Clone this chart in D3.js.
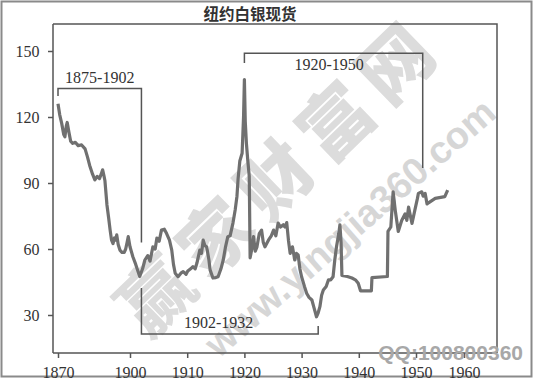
<!DOCTYPE html>
<html><head><meta charset="utf-8">
<script src="https://cdn.jsdelivr.net/npm/d3@7/dist/d3.min.js"></script>
<style>body{margin:0;background:#fff}</style>
</head><body><svg id="c" width="535" height="380"></svg>
<script>
const titleText = "纽约白银现货";
const years = [1875.0,1875.6,1876.3,1877.0,1877.4,1877.9,1878.2,1878.8,1879.4,1880.1,1881.0,1882.0,1883.2,1884.4,1885.2,1886.0,1887.0,1887.8,1888.6,1889.4,1890.0,1890.5,1891.0,1891.3,1892.0,1892.6,1893.1,1893.6,1894.1,1894.6,1895.0,1895.4,1895.9,1896.5,1897.2,1898.0,1898.5,1899.0,1899.4,1900.0,1900.5,1901.0,1901.7,1902.2,1902.6,1903.1,1903.5,1904.0,1904.4,1904.7,1905.1,1905.5,1906.0,1906.4,1906.9,1907.3,1907.6,1907.9,1908.4,1908.9,1909.3,1909.8,1910.1,1910.6,1911.0,1911.4,1911.7,1912.2,1912.5,1912.8,1913.1,1913.4,1913.8,1914.0,1914.5,1915.0,1915.4,1915.9,1916.3,1916.7,1917.1,1917.5,1918.0,1918.4,1918.7,1918.9,1919.2,1919.6,1919.85,1920.0,1920.15,1920.35,1920.6,1920.85,1921.0,1921.3,1921.6,1921.9,1922.2,1922.6,1923.0,1923.3,1923.6,1924.2,1924.7,1925.1,1925.5,1925.9,1926.3,1926.8,1927.1,1927.4,1927.7,1928.0,1928.4,1928.8,1929.1,1929.4,1929.7,1930.0,1930.5,1930.9,1931.3,1931.8,1932.2,1932.6,1932.9,1933.2,1933.5,1933.8,1934.3,1934.7,1935.1,1935.5,1935.8,1936.1,1936.5,1936.7,1936.9,1937.05,1938.0,1938.8,1939.4,1939.9,1940.3,1942.2,1942.3,1945.0,1945.1,1945.6,1946.0,1946.4,1946.9,1947.5,1948.1,1948.4,1948.7,1949.3,1949.8,1950.3,1950.5,1951.2,1951.5,1951.9,1952.3,1952.6,1954.0,1956.0,1956.6];
const silverPrice = [126,121,117,112,111,116,117.5,113,109,108,108.5,107,107.3,105.5,102,98,94,91.4,93,92,94,96,93,91,80,74,68.6,64,62.5,65,64,66.4,62,59.5,58.5,58.5,60,63,65.6,61,56.5,53,47.5,51,55,57,54.5,61,60,65,63.5,68.6,69,67,64,59.5,53,49,47.4,49,49.7,48.5,50,51,52,51,53.6,59.5,58,64,61.5,61,55,50.5,46.8,47,47.4,51,55,61,65.6,66,71.8,78,84,92,100,103.5,120,137,118,108,100,93,56,60,65.6,59,61,67,68.6,63,61,64,66,68.6,66,71.8,70,71,70,72,64,58,61,55,58,57.3,51,47.4,43,39.8,38,36.8,33,29.2,31,33.8,39,41.4,43,46,46,47.4,55,61,67,71,63,48,47.5,46.8,46,44.4,41,41,47,47.5,68,70,86,77,68,73,76,73,79,71.6,77.7,83,85.3,86,84,85.3,80.5,81,83,83.8,86.8];
const xTickYears = [1870,1900,1910,1920,1930,1940,1950,1960];
const yTickValues = [30,60,90,120,150];
const periodLabels = ["1875-1902","1902-1932","1920-1950"];
const periodStart = [1875,1902,1920];
const periodEnd = [1902,1932.9,1951.4];
const periodLevel = [133,21.4,149];
const periodStartTip = [129.5,42.3,144.5];
const periodEndTip = [63,25,96.8];
const periodLabelYear = [1889.5,1915.5,1934.8];
const periodLabelValue = [135.5,24.1,141.4];
const watermarkMain = "赢家财富网";
const watermarkUrl = "www.yingjia360.com";
const watermarkQQ = "QQ:100800360";

const svg = d3.select("#c");
const L = 53, R = 497, T = 24, B = 353;
const x = d3.scaleLinear().domain([1875,1900,1950,1960]).range([58,130,416,464]).clamp(true);
const y = d3.scaleLinear().domain([30,150]).range([315,51]);

// outer scan border
svg.append("rect").attr("x",1.5).attr("y",1.5).attr("width",530).attr("height",375)
  .attr("fill","#fff").attr("stroke","#8a8a8a").attr("stroke-width",2);

// watermarks (behind), one glyph per element along the diagonal
const wmChars = Array.from(watermarkMain);
svg.append("g").selectAll("text").data(wmChars).join("text")
  .attr("transform",(d,i)=>`translate(${272+(i-2)*60},${176-(i-2)*58}) rotate(-44)`)
  .attr("text-anchor","middle").attr("dominant-baseline","central")
  .attr("font-family","Noto Sans CJK SC").attr("font-weight","900").attr("font-size",72)
  .attr("fill","#dcdcdc").text(d=>d);
svg.append("text").attr("transform","translate(352,230) rotate(-41)")
  .attr("text-anchor","middle").attr("dominant-baseline","middle")
  .attr("font-family","Liberation Sans, Arial").attr("font-weight","bold").attr("font-size",38)
  .attr("fill","#d6d6d6").text(watermarkUrl);

// title
svg.append("text").attr("x",250).attr("y",20).attr("text-anchor","middle")
  .attr("font-family","Noto Sans CJK SC").attr("font-weight","bold").attr("font-size",15.5)
  .attr("fill","#333").text(titleText);

// frame
svg.append("path").attr("d",`M${L},${T}H${R}V${B}`).attr("fill","none")
  .attr("stroke","#555").attr("stroke-width",1.5);

// axes
const fontF = "Liberation Serif, 'DejaVu Serif', serif";
const xAxis = svg.append("g").attr("transform",`translate(0,${B})`)
  .call(d3.axisBottom(x).tickValues(xTickYears).tickFormat(d3.format("d")).tickSizeInner(5).tickSizeOuter(0));
xAxis.select(".domain").attr("d",`M${L},0H${R}`);
const yAxis = svg.append("g").attr("transform",`translate(${L},0)`)
  .call(d3.axisLeft(y).tickValues(yTickValues).tickSizeInner(5).tickSizeOuter(0));
yAxis.select(".domain").attr("d",`M0,${T}V${B}`);
svg.selectAll(".tick line,.domain").attr("stroke","#555").attr("stroke-width",1.5);
svg.selectAll(".tick text").attr("font-family",fontF).attr("font-size",16).attr("fill","#333");
xAxis.selectAll(".tick text").attr("dy","1.05em");
yAxis.selectAll(".tick text").attr("dx","-0.35em");

// brackets
periodLabels.forEach((lab,i)=>{
  const x0 = x(periodStart[i]), x1 = x(periodEnd[i]);
  svg.append("path")
    .attr("d",`M${x0},${y(periodStartTip[i])}V${y(periodLevel[i])}H${x1}V${y(periodEndTip[i])}`)
    .attr("fill","none").attr("stroke","#555").attr("stroke-width",1.5);
  svg.append("text").attr("x",x(periodLabelYear[i])).attr("y",y(periodLabelValue[i]))
    .attr("text-anchor","middle").attr("font-family",fontF).attr("font-size",16)
    .attr("fill","#333").text(lab);
});

// data line
const pts = years.map((d,i)=>[d,silverPrice[i]]);
svg.append("path").datum(pts)
  .attr("d",d3.line().x(d=>x(d[0])).y(d=>y(d[1])))
  .attr("fill","none").attr("stroke","#707070").attr("stroke-width",3.2)
  .attr("stroke-linejoin","round");

// QQ watermark
svg.append("text").attr("x",523).attr("y",360).attr("text-anchor","end")
  .attr("font-family","Liberation Sans, Arial").attr("font-weight","bold").attr("font-size",21)
  .attr("fill","#a8a8a8").text(watermarkQQ);
</script></body></html>
